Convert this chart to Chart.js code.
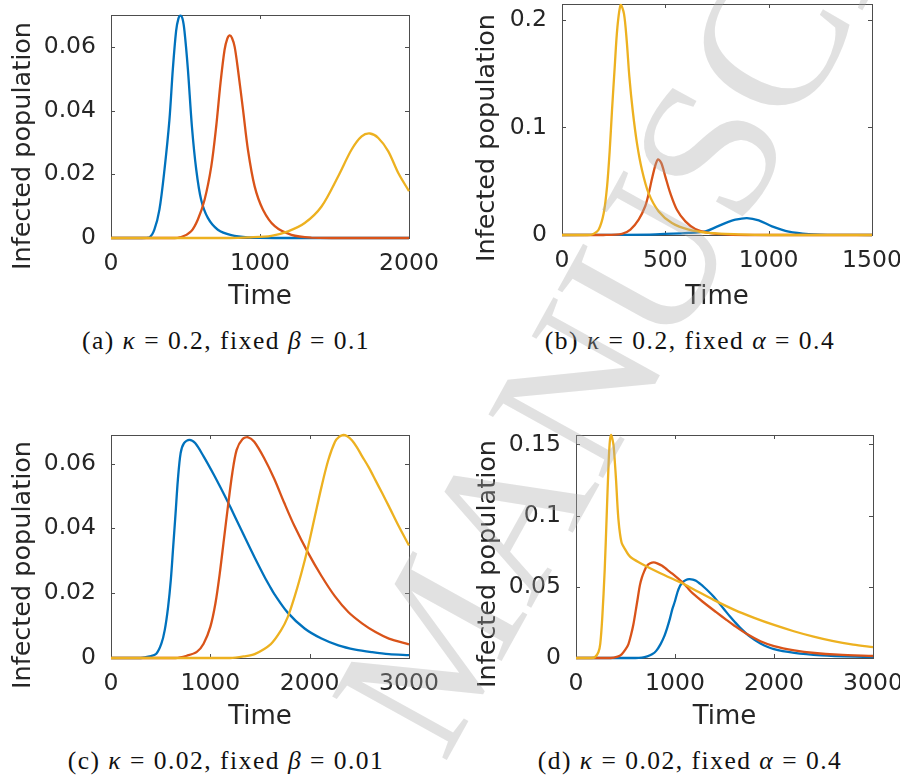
<!DOCTYPE html>
<html>
<head>
<meta charset="utf-8">
<script src="https://cdn.jsdelivr.net/npm/chart.js@4.4.1/dist/chart.umd.min.js"></script>
<style>
  body { margin: 0; width: 900px; height: 778px; background: #fff; position: relative; overflow: hidden; }
  canvas { position: absolute; }
  .ylab { position: absolute; font: 25.5px "DejaVu Sans"; line-height: 1; color: #262626; white-space: nowrap;
          transform: translate(-50%, -50%) rotate(-90deg); }
  .cap { position: absolute; font: 25.5px "Liberation Serif"; line-height: 1; letter-spacing: 1.5px; color: #111;
         white-space: nowrap; transform: translateX(-50%); }
  .wm { position: absolute; font: 200px "Liberation Serif"; line-height: 1; white-space: nowrap;
        color: rgba(170, 170, 170, 0.35); transform-origin: 0 0; transform: rotate(-61deg); pointer-events: none; }
</style>
</head>
<body>
<canvas id="chartA" width="440" height="320" style="left:0;top:0"></canvas>
<canvas id="chartB" width="450" height="320" style="left:450px;top:0"></canvas>
<canvas id="chartC" width="440" height="320" style="left:0;top:420px"></canvas>
<canvas id="chartD" width="450" height="320" style="left:450px;top:420px"></canvas>

<div class="ylab" style="left:22px;top:146px">Infected population</div>
<div class="ylab" style="left:486px;top:138px">Infected population</div>
<div class="ylab" style="left:22px;top:565px">Infected population</div>
<div class="ylab" style="left:487px;top:564px">Infected population</div>

<div class="cap" style="left:226px;top:328px">(a) <i>κ</i> = 0.2, fixed <i>β</i> = 0.1</div>
<div class="cap" style="left:690px;top:328px">(b) <i>κ</i> = 0.2, fixed <i>α</i> = 0.4</div>
<div class="cap" style="left:226px;top:748px">(c) <i>κ</i> = 0.02, fixed <i>β</i> = 0.01</div>
<div class="cap" style="left:690px;top:748px">(d) <i>κ</i> = 0.02, fixed <i>α</i> = 0.4</div>

<div class="wm" style="left:298px;top:684px">MANUSCRIPT</div>

<script>
// (a) kappa = 0.2, fixed beta = 0.1
const aBlueT = [0, 200, 258, 291, 325, 359, 392, 415, 437, 452, 466, 480, 493, 516, 543, 572, 605, 650, 717, 807, 919, 1100, 2000];
const aBlueI = [0, 0, 0.0002, 0.0026, 0.0089, 0.0215, 0.037, 0.053, 0.065, 0.0688, 0.0698, 0.0688, 0.065, 0.053, 0.035, 0.0215, 0.012, 0.0063, 0.0026, 0.0009, 0.0002, 0, 0];
const aRedT = [0, 400, 471, 538, 583, 628, 673, 706, 735, 762, 780, 796, 812, 830, 852, 886, 919, 964, 1020, 1099, 1211, 1345, 1500, 2000];
const aRedI = [0, 0, 0.0003, 0.0021, 0.0058, 0.012, 0.0225, 0.035, 0.0487, 0.059, 0.0625, 0.0636, 0.0628, 0.06, 0.0529, 0.0403, 0.0277, 0.0162, 0.0089, 0.0037, 0.001, 0.0001, 0, 0];
const aYelT = [0, 800, 919, 1076, 1188, 1300, 1413, 1525, 1614, 1682, 1738, 1794, 1861, 1928, 2000];
const aYelI = [0, 0, 0.0002, 0.0007, 0.0021, 0.0047, 0.0099, 0.0194, 0.0277, 0.0319, 0.0328, 0.0314, 0.0272, 0.0204, 0.0147];

// (b) kappa = 0.2, fixed alpha = 0.4
const bBlueT = [0, 300, 452, 613, 694, 742, 790, 839, 895, 952, 1016, 1097, 1194, 1339, 1500];
const bBlueI = [0, 0.0002, 0.0006, 0.0019, 0.0034, 0.0071, 0.0111, 0.0142, 0.0157, 0.0136, 0.008, 0.0031, 0.0009, 0.0001, 0];
const bRedT = [0, 200, 290, 331, 371, 403, 419, 435, 452, 465, 481, 500, 524, 556, 597, 645, 710, 806, 900, 1500];
const bRedI = [0, 0, 0.001, 0.005, 0.0142, 0.027, 0.038, 0.052, 0.065, 0.0704, 0.0667, 0.0543, 0.0389, 0.0235, 0.0127, 0.0056, 0.0019, 0.0003, 0, 0];
const bYelT = [0, 120, 145, 177, 202, 218, 231, 242, 255, 268, 284, 300, 313, 326, 342, 363, 387, 419, 468, 532, 613, 710, 855, 1000, 1500];
const bYelI = [0, 0, 0.0005, 0.0049, 0.0204, 0.045, 0.079, 0.116, 0.156, 0.193, 0.214, 0.2056, 0.181, 0.147, 0.116, 0.085, 0.0605, 0.0389, 0.0219, 0.0111, 0.0049, 0.0019, 0.0006, 0, 0];

// (c) kappa = 0.02, fixed beta = 0.01
const cBlueT = [0, 300, 388, 456, 507, 541, 575, 602, 626, 650, 673, 701, 735, 789, 847, 932, 1034, 1136, 1204, 1306, 1408, 1446, 1541, 1597, 1643, 1779, 1949, 2119, 2289, 2459, 2629, 2798, 3000];
const cBlueI = [0, 0, 0.0005, 0.0013, 0.0044, 0.0086, 0.0158, 0.024, 0.0343, 0.0446, 0.0549, 0.0632, 0.0663, 0.0673, 0.0663, 0.0622, 0.0566, 0.0506, 0.0464, 0.0399, 0.0334, 0.031, 0.0253, 0.0222, 0.0198, 0.014, 0.0091, 0.006, 0.0039, 0.0026, 0.0018, 0.0012, 0.0009];
const cRedT = [0, 650, 762, 864, 932, 1000, 1051, 1095, 1136, 1177, 1221, 1265, 1323, 1381, 1442, 1541, 1643, 1745, 1847, 1983, 2119, 2255, 2391, 2527, 2663, 2798, 3000];
const cRedI = [0, 0, 0.0007, 0.0019, 0.0044, 0.0096, 0.0168, 0.0261, 0.0364, 0.0467, 0.057, 0.0642, 0.0675, 0.0681, 0.0667, 0.0617, 0.0553, 0.0478, 0.0407, 0.0325, 0.0253, 0.019, 0.0141, 0.0107, 0.008, 0.006, 0.0042];
const cYelT = [0, 1200, 1340, 1446, 1609, 1711, 1779, 1847, 1915, 1983, 2051, 2119, 2187, 2255, 2296, 2340, 2374, 2425, 2476, 2527, 2595, 2663, 2731, 2799, 2901, 3000];
const cYelI = [0, 0, 0.0005, 0.0012, 0.0043, 0.0085, 0.0126, 0.0188, 0.026, 0.0342, 0.0435, 0.0528, 0.061, 0.0667, 0.0682, 0.0688, 0.0685, 0.0672, 0.065, 0.0623, 0.0588, 0.0548, 0.0508, 0.0467, 0.0404, 0.0347];

// (d) kappa = 0.02, fixed alpha = 0.4
const dBlueT = [0, 600, 666, 720, 768, 810, 853, 890, 922, 950, 973, 1000, 1024, 1050, 1075, 1110, 1143, 1180, 1212, 1255, 1297, 1340, 1382, 1425, 1468, 1519, 1556, 1600, 1659, 1761, 1863, 2000, 2205, 2478, 2819, 3000];
const dBlueI = [0, 0, 0.0003, 0.0012, 0.0026, 0.005, 0.0096, 0.015, 0.0214, 0.028, 0.0343, 0.04, 0.046, 0.0505, 0.0531, 0.0548, 0.0554, 0.0551, 0.0542, 0.052, 0.0495, 0.0467, 0.0437, 0.0402, 0.0366, 0.0322, 0.0291, 0.0256, 0.0212, 0.0148, 0.0102, 0.0062, 0.0036, 0.0019, 0.0009, 0.0007];
const dRedT = [0, 350, 420, 461, 500, 529, 555, 580, 605, 625, 645, 666, 690, 717, 750, 785, 820, 870, 920, 973, 1075, 1120, 1177, 1280, 1416, 1519, 1590, 1727, 1863, 2000, 2205, 2410, 2648, 3000];
const dRedI = [0, 0, 0.001, 0.0026, 0.006, 0.0096, 0.016, 0.0237, 0.034, 0.0425, 0.051, 0.0566, 0.061, 0.0648, 0.0665, 0.0671, 0.0665, 0.0648, 0.062, 0.0592, 0.0531, 0.0498, 0.0455, 0.0395, 0.0322, 0.0268, 0.0232, 0.0168, 0.0118, 0.0084, 0.0054, 0.0035, 0.0023, 0.0014];
const dYelT = [0, 150, 190, 226, 245, 265, 290, 310, 330, 343, 355, 367, 380, 392, 405, 418, 429, 444, 463, 495, 530, 563, 666, 836, 1000, 1075, 1200, 1390, 1600, 1800, 2000, 2200, 2400, 2600, 2800, 3000];
const dYelI = [0, 0, 0.0005, 0.004, 0.01, 0.028, 0.062, 0.1, 0.138, 0.153, 0.1566, 0.154, 0.149, 0.138, 0.1246, 0.108, 0.097, 0.0875, 0.0805, 0.0765, 0.0725, 0.0702, 0.066, 0.06, 0.0548, 0.0525, 0.0478, 0.0408, 0.0338, 0.0282, 0.0232, 0.0188, 0.015, 0.0118, 0.0094, 0.0076];

// axis limits and tick labels
const aXTicks = [0, 1000, 2000], aYTicks = [0, 0.02, 0.04, 0.06];
const bXTicks = [0, 500, 1000, 1500], bYTicks = [0, 0.1, 0.2];
const cXTicks = [0, 1000, 2000, 3000], cYTicks = [0, 0.02, 0.04, 0.06];
const dXTicks = [0, 1000, 2000, 3000], dYTicks = [0, 0.05, 0.1, 0.15];

const BLUE = '#0072BD', RED = '#D95319', YEL = '#EDB120';

function pts(t, v) {
    return t.map((x, i) => ({ x: x, y: v[i] }));
}

// box round the axes with small inward ticks on all four sides (MATLAB style)
const framePlugin = {
    id: 'frame',
    beforeDatasetsDraw(chart) {
        const { ctx, chartArea: a, scales: { x, y } } = chart;
        ctx.save();
        ctx.strokeStyle = '#4d4d4d';
        ctx.lineWidth = 1;
        ctx.beginPath();
        x.ticks.forEach(t => {
            const px = Math.round(x.getPixelForValue(t.value)) + 0.5;
            ctx.moveTo(px, a.bottom); ctx.lineTo(px, a.bottom - 4);
            ctx.moveTo(px, a.top); ctx.lineTo(px, a.top + 4);
        });
        y.ticks.forEach(t => {
            const py = Math.round(y.getPixelForValue(t.value)) + 0.5;
            ctx.moveTo(a.left, py); ctx.lineTo(a.left + 4, py);
            ctx.moveTo(a.right, py); ctx.lineTo(a.right - 4, py);
        });
        ctx.stroke();
        ctx.strokeRect(Math.round(a.left) + 0.5, Math.round(a.top) + 0.5,
            Math.round(a.right - a.left), Math.round(a.bottom - a.top));
        ctx.restore();
    }
};

function makeChart(id, series, xMax, yMax, xTicks, yTicks, yWidth, padRight, padTop, xHeight) {
    const ctx = document.getElementById(id).getContext('2d');
    return new Chart(ctx, {
        type: 'line',
        data: {
            datasets: series.map((s, i) => ({
                data: s.data,
                borderColor: s.color,
                borderWidth: 2.3,
                pointRadius: 0,
                fill: false,
                tension: 0.3,
                clip: 4,
                order: 3 - i
            }))
        },
        options: {
            responsive: false,
            animation: false,
            devicePixelRatio: 1,
            layout: { padding: { left: 0, right: padRight, top: padTop, bottom: 0 } },
            plugins: { legend: { display: false }, tooltip: { enabled: false } },
            scales: {
                x: {
                    type: 'linear',
                    min: 0, max: xMax,
                    grid: { display: false, drawTicks: false },
                    border: { display: false },
                    afterBuildTicks: s => { s.ticks = xTicks.map(v => ({ value: v })); },
                    afterFit: s => { s.height = xHeight; s.paddingLeft = 0; s.paddingRight = 0; },
                    ticks: {
                        padding: 12,
                        maxRotation: 0,
                        color: '#262626',
                        font: { family: 'DejaVu Sans', size: 23.5 },
                        callback: v => String(v)
                    },
                    title: {
                        display: true,
                        text: 'Time',
                        color: '#262626',
                        font: { family: 'DejaVu Sans', size: 26, lineHeight: 1 },
                        padding: { top: 0, bottom: 10 }
                    }
                },
                y: {
                    type: 'linear',
                    min: 0, max: yMax,
                    grid: { display: false, drawTicks: false },
                    border: { display: false },
                    afterBuildTicks: s => { s.ticks = yTicks.map(v => ({ value: v })); },
                    afterFit: s => { s.width = yWidth; s.paddingTop = 0; s.paddingBottom = 0; },
                    ticks: {
                        padding: 15,
                        color: '#262626',
                        font: { family: 'DejaVu Sans', size: 23.5 },
                        callback: v => String(+v.toFixed(4))
                    }
                }
            }
        },
        plugins: [framePlugin]
    });
}

makeChart('chartA', [
    { data: pts(aBlueT, aBlueI), color: BLUE },
    { data: pts(aRedT, aRedI), color: RED },
    { data: pts(aYelT, aYelI), color: YEL }
], 2000, 0.07, aXTicks, aYTicks, 111, 31, 15, 82);

makeChart('chartB', [
    { data: pts(bBlueT, bBlueI), color: BLUE },
    { data: pts(bRedT, bRedI), color: RED },
    { data: pts(bYelT, bYelI), color: YEL }
], 1500, 0.2148, bXTicks, bYTicks, 112, 28, 4, 85);

makeChart('chartC', [
    { data: pts(cBlueT, cBlueI), color: BLUE },
    { data: pts(cRedT, cRedI), color: RED },
    { data: pts(cYelT, cYelI), color: YEL }
], 3000, 0.0688, cXTicks, cYTicks, 111, 31, 15, 82);

makeChart('chartD', [
    { data: pts(dBlueT, dBlueI), color: BLUE },
    { data: pts(dRedT, dRedI), color: RED },
    { data: pts(dYelT, dYelI), color: YEL }
], 3000, 0.1566, dXTicks, dYTicks, 126, 27, 15, 82);
</script>
</body>
</html>
